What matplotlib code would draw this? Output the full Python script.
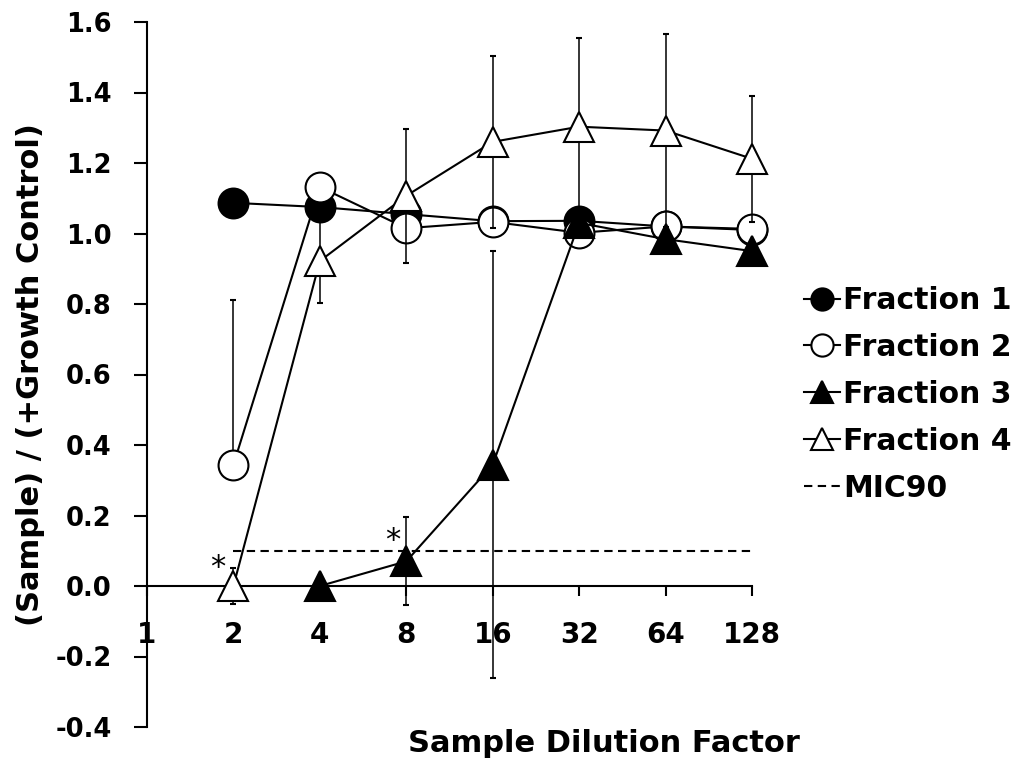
import matplotlib
matplotlib.use("Agg")
import matplotlib.pyplot as plt
from matplotlib.lines import Line2D
import numpy as np

# Dilution series (x) and normalised growth per fraction
dilution = [1, 2, 4, 8, 16, 32, 64, 128]
tick_labels = ["1", "2", "4", "8", "16", "32", "64", "128"]

f1_x = [2, 4, 8, 16, 32, 64, 128]
f1_y = [1.087, 1.075, 1.055, 1.035, 1.036, 1.020, 1.010]
f1_err = [0.02, 0.02, 0.02, 0.02, 0.02, 0.02, 0.02]

f2_x = [2, 4, 8, 16, 32, 64, 128]
f2_y = [0.344, 1.132, 1.015, 1.033, 1.002, 1.020, 1.013]
f2_err_lo = [0.0, 0.03, 0.03, 0.03, 0.03, 0.03, 0.03]
f2_err_hi = [0.466, 0.03, 0.03, 0.03, 0.03, 0.03, 0.03]

f3_x = [4, 8, 16, 32, 64, 128]
f3_y = [0.0, 0.070, 0.344, 1.030, 0.984, 0.950]
f3_err = [0.02, 0.125, 0.605, 0.03, 0.03, 0.03]

f4_x = [2, 4, 8, 16, 32, 64, 128]
f4_y = [0.0, 0.922, 1.107, 1.260, 1.303, 1.292, 1.212]
f4_err = [0.05, 0.120, 0.190, 0.243, 0.253, 0.273, 0.178]

mic90 = 0.1
mic90_x = [2, 128]

series_names = ["Fraction 1", "Fraction 2", "Fraction 3", "Fraction 4", "MIC90"]

FONT = "DejaVu Sans"
plt.rcParams["font.family"] = [FONT]

fig = plt.figure(figsize=(10.23, 7.65), dpi=100)
ax = fig.add_axes([147 / 1023, 1 - 727 / 765, (752 - 147) / 1023, (727 - 22) / 765])

ax.set_xscale("log", base=2)
ax.set_xlim(1, 128)
ax.set_ylim(-0.4, 1.6)

LW = 1.5
MS = 21.5
common = dict(color="black", lw=LW, ms=MS, mew=1.5, mec="black",
              ecolor="black", elinewidth=1.1, capsize=2.2, capthick=1.1,
              clip_on=False)

ax.errorbar(f1_x, f1_y, yerr=f1_err, marker="o", mfc="black", zorder=3, **common)
ax.errorbar(f2_x, f2_y, yerr=[f2_err_lo, f2_err_hi], marker="o", mfc="white", zorder=4, **common)
ax.errorbar(f3_x, f3_y, yerr=f3_err, marker="^", mfc="black", zorder=5, **common)
ax.errorbar(f4_x, f4_y, yerr=f4_err, marker="^", mfc="white", zorder=6, **common)

ax.plot(mic90_x, [mic90, mic90], color="black", lw=1.5, ls=(0, (4, 2.6)), zorder=2)

# significance marks next to the first points under the MIC90 line
ax.annotate("*", xy=(f4_x[0], f4_y[0]), xytext=(-11, 13), textcoords="offset points",
            ha="center", va="center", fontsize=22, zorder=7)
ax.annotate("*", xy=(f3_x[1], f3_y[1]), xytext=(-10, 15), textcoords="offset points",
            ha="center", va="center", fontsize=22, zorder=7)

# axes styling
for s in ["top", "right"]:
    ax.spines[s].set_visible(False)
ax.spines["bottom"].set_position(("data", 0))
ax.spines["left"].set_linewidth(1.5)
ax.spines["bottom"].set_linewidth(1.5)

ax.set_xticks(dilution)
ax.set_xticklabels(tick_labels)
ax.xaxis.set_minor_locator(plt.NullLocator())
yt = np.round(np.arange(-0.4, 1.61, 0.2), 1)
ax.set_yticks(yt)
ax.set_yticklabels([f"{v:.1f}" for v in yt])

ax.tick_params(axis="x", direction="out", length=7, width=1.5, pad=18, labelsize=20)
ax.tick_params(axis="y", direction="out", length=9.5, width=1.5, pad=16, labelsize=18.5)
for lab in ax.get_xticklabels() + ax.get_yticklabels():
    lab.set_fontweight("bold")

fig.text(604 / 1023, 1 - 743 / 765, "Sample Dilution Factor", ha="center", va="center",
         fontsize=22, fontweight="bold")
fig.text(31 / 1023, 1 - 375 / 765, "(Sample) / (+Growth Control)", ha="center", va="center",
         rotation=90, fontsize=22, fontweight="bold")

handles = [
    Line2D([], [], color="black", lw=LW, marker="o", ms=16, mfc="black", mec="black", mew=1.5),
    Line2D([], [], color="black", lw=LW, marker="o", ms=16, mfc="white", mec="black", mew=1.5),
    Line2D([], [], color="black", lw=LW, marker="^", ms=16, mfc="black", mec="black", mew=1.5),
    Line2D([], [], color="black", lw=LW, marker="^", ms=16, mfc="white", mec="black", mew=1.5),
    Line2D([], [], color="black", lw=1.5, ls=(0, (4, 2.6))),
]
leg = fig.legend(handles, series_names, loc="upper left",
                 bbox_to_anchor=(804 / 1023, 1 - 286 / 765), frameon=False,
                 prop={"family": FONT, "weight": "bold", "size": 21.5},
                 handlelength=1.2, handletextpad=0.12, labelspacing=0.6,
                 borderpad=0, borderaxespad=0)

fig.savefig("out.png", dpi=100)
